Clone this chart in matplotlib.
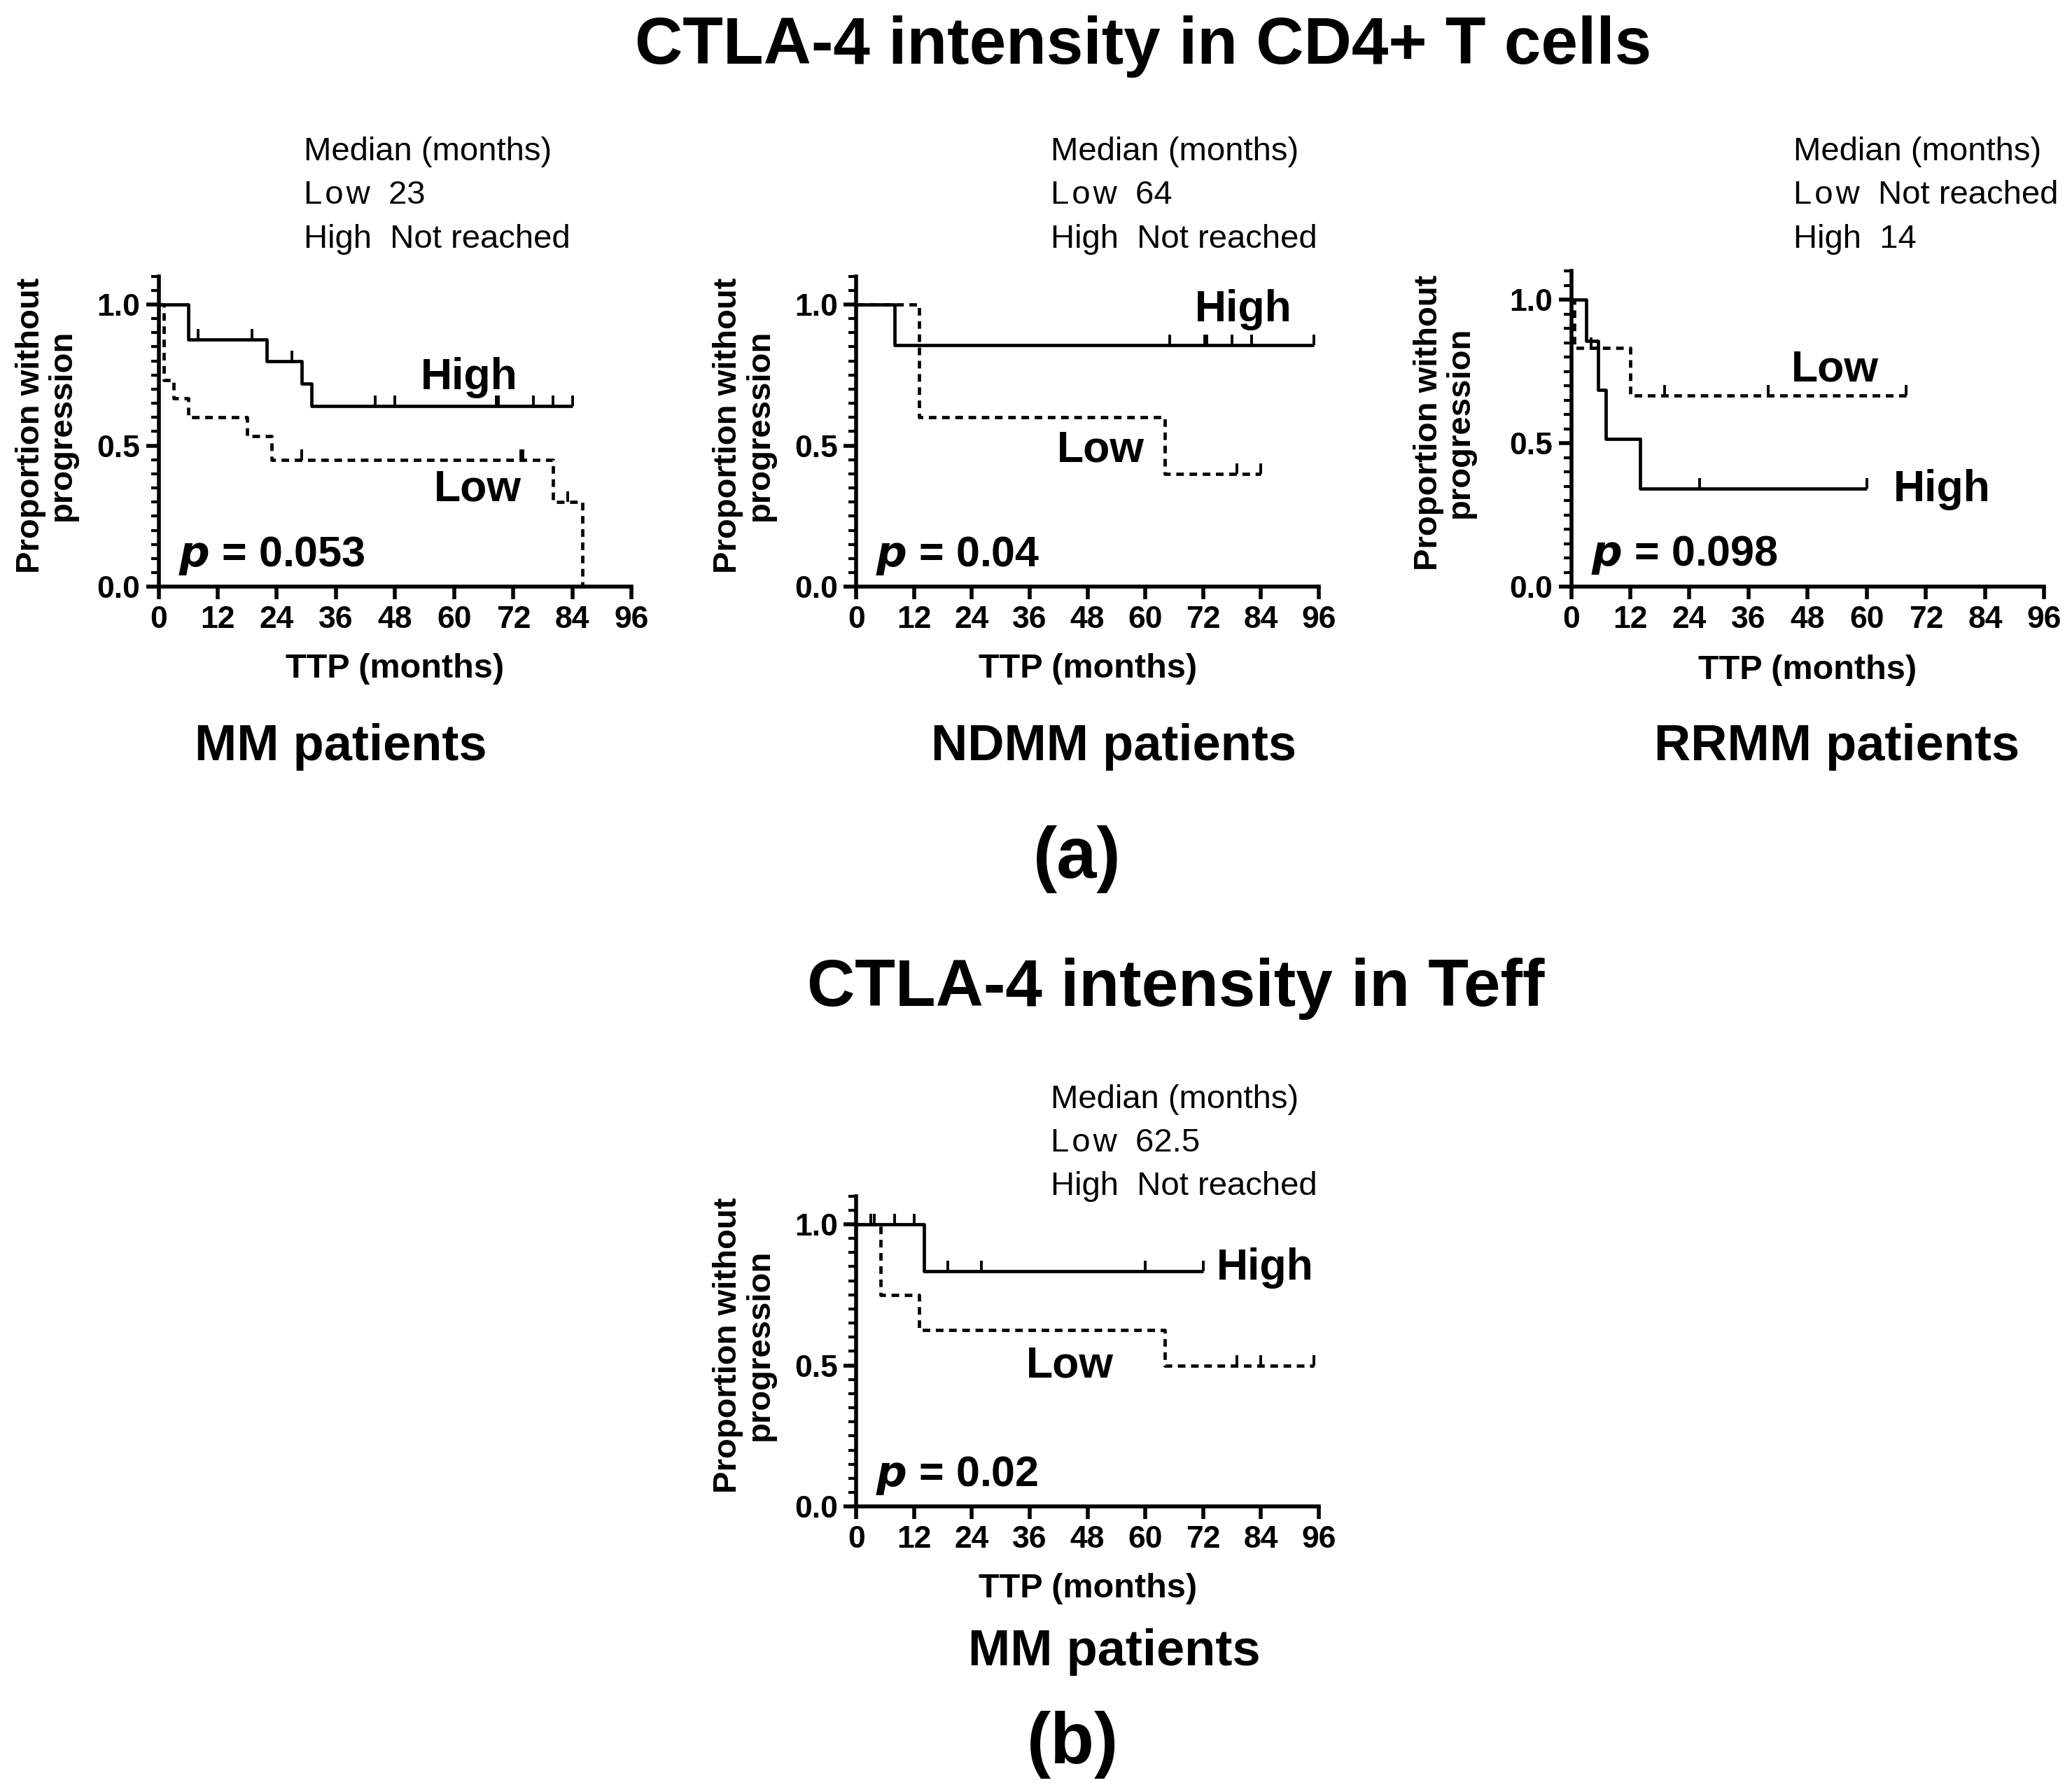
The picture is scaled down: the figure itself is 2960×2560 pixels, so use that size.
"""Kaplan-Meier curves: CTLA-4 intensity in CD4+ T cells and Teff (TTP)."""

import matplotlib
matplotlib.use("Agg")
import matplotlib.pyplot as plt
from matplotlib.ticker import MultipleLocator
from matplotlib.markers import TICKUP

plt.rcParams.update({
    "font.family": ["Liberation Sans", "DejaVu Sans"],
    "font.weight": "bold",
    "axes.linewidth": 4.0,
    "xtick.major.width": 4.0,
    "ytick.major.width": 4.0,
    "ytick.minor.width": 3.0,
    "xtick.major.size": 13,
    "ytick.major.size": 13,
    "ytick.minor.size": 8,
})

W, H = 1568, 1356  # layout measured on a 1568 x 1356 view of the reference

# ---- data (months, proportion without progression) ----
# CD4+ T cells, MM patients
mm_high_t = [0, 6, 22, 29, 31, 84]
mm_high_s = [1.0, 0.875, 0.80, 0.72, 0.64, 0.64]
mm_high_cens = [8, 19, 27, 44, 48, 68.5, 69, 76, 80, 84]
mm_low_t = [0, 1, 3, 6, 18, 23, 80, 86]
mm_low_s = [1.0, 0.733, 0.667, 0.60, 0.533, 0.45, 0.30, 0.0]
mm_low_cens = [29, 73.5, 74, 83]

# CD4+ T cells, NDMM patients
nd_high_t = [0, 8, 95]
nd_high_s = [1.0, 0.857, 0.857]
nd_high_cens = [65, 72.3, 72.8, 78, 82, 95]
nd_low_t = [0, 13, 64, 84]
nd_low_s = [1.0, 0.60, 0.40, 0.40]
nd_low_cens = [79, 84]

# CD4+ T cells, RRMM patients
rr_high_t = [0, 3, 5.5, 7, 14, 60]
rr_high_s = [1.0, 0.857, 0.686, 0.514, 0.343, 0.343]
rr_high_cens = [26, 60]
rr_low_t = [0, 0.6, 12, 68]
rr_low_s = [1.0, 0.833, 0.667, 0.667]
rr_low_cens = [4, 19, 40, 68]

# Teff, MM patients
te_high_t = [0, 14, 72]
te_high_s = [1.0, 0.833, 0.833]
te_high_cens = [3, 3.7, 8, 12, 19, 26, 60, 72]
te_low_t = [0, 5, 13, 64, 95]
te_low_s = [1.0, 0.75, 0.625, 0.50, 0.50]
te_low_cens = [79, 84, 95]

panels = [
    dict(rect=(120, 478, 444, 209), ylab_x=-0.237,
         high=(mm_high_t, mm_high_s, mm_high_cens),
         low=(mm_low_t, mm_low_s, mm_low_cens),
         high_lab=(63, 0.74), low_lab=(64.7, 0.345), p="0.053",
         median=("23", "Not reached"), med_xy=(230, 115),
         sub="MM patients", sub_xy=(258, 565)),
    dict(rect=(648, 998, 444, 209), ylab_x=-0.243,
         high=(nd_high_t, nd_high_s, nd_high_cens),
         low=(nd_low_t, nd_low_s, nd_low_cens),
         high_lab=(80.4, 0.98), low_lab=(50.7, 0.484), p="0.04",
         median=("64", "Not reached"), med_xy=(795, 115),
         sub="NDMM patients", sub_xy=(843, 565)),
    dict(rect=(1189, 1547, 444, 205), ylab_x=-0.268,
         high=(rr_high_t, rr_high_s, rr_high_cens),
         low=(rr_low_t, rr_low_s, rr_low_cens),
         high_lab=(75.3, 0.339), low_lab=(53.6, 0.757), p="0.098",
         median=("Not reached", "14"), med_xy=(1357, 115),
         sub="RRMM patients", sub_xy=(1390, 565)),
    dict(rect=(648, 998, 1140, 905), ylab_x=-0.243,
         high=(te_high_t, te_high_s, te_high_cens),
         low=(te_low_t, te_low_s, te_low_cens),
         high_lab=(84.8, 0.845), low_lab=(44.4, 0.50), p="0.02",
         median=("62.5", "Not reached"), med_xy=(795, 832),
         sub="MM patients", sub_xy=(843, 1250)),
]

DASH = (0, (2.3, 1.7))


def fx(x):
    return x / W


def fy(y):
    return 1 - y / H


def km(ax, t, s, cens, ls):
    ax.step(t, s, where="post", color="black", lw=3.4, linestyle=ls,
            solid_capstyle="butt", clip_on=False)
    # censor marks sit on the curve at each censored time
    cs = []
    for c in cens:
        v = s[0]
        for ti, si in zip(t, s):
            if ti <= c:
                v = si
        cs.append(v)
    ax.plot(cens, cs, linestyle="none", marker=TICKUP, markersize=11,
            markeredgewidth=2.8, color="black", clip_on=False)


fig = plt.figure(figsize=(29.6, 25.6), dpi=100)

for p in panels:
    x0, x1, yb, yt = p["rect"]
    ax = fig.add_axes([fx(x0), fy(yb), fx(x1) - fx(x0), fy(yt) - fy(yb)])
    km(ax, *p["high"], "-")
    km(ax, *p["low"], DASH)

    ax.set_xlim(0, 96)
    ax.set_ylim(0, 1.1)
    ax.set_xticks(range(0, 97, 12))
    ax.set_yticks([0, 0.5, 1.0])
    ax.set_yticklabels(["0.0", "0.5", "1.0"])
    ax.yaxis.set_minor_locator(MultipleLocator(0.05))
    ax.tick_params(axis="both", direction="out", labelsize=32, pad=6)
    for lab in ax.get_xticklabels() + ax.get_yticklabels():
        lab.set_fontweight("bold")
    for side in ("top", "right"):
        ax.spines[side].set_visible(False)

    ax.set_xlabel("TTP (months)", fontsize=35, fontweight="bold")
    ax.xaxis.label.set_va("center")
    ax.xaxis.set_label_coords(0.5, -0.264)
    ax.set_ylabel("Proportion without\nprogression", fontsize=34,
                  fontweight="bold", linespacing=1.05)
    ax.yaxis.label.set_va("center")
    ax.yaxis.set_label_coords(p["ylab_x"], 0.52)

    ax.text(*p["high_lab"], "High", fontsize=45, fontweight="bold",
            ha="center", va="center")
    ax.text(*p["low_lab"], "Low", fontsize=45, fontweight="bold",
            ha="center", va="center")
    ax.text(4, 0.11, r"$\bf{\it{p}}$" + " = " + p["p"], fontsize=44,
            fontweight="bold", ha="left", va="center")

    mx, my = p["med_xy"]
    lo, hi = p["median"]
    for k, line in enumerate(["Median (months)", "L\u200ao\u200aw  " + lo,
                              "High  " + hi]):
        fig.text(fx(mx), fy(my + 33 * k), line, fontsize=34,
                 fontweight="normal", ha="left", va="center")

    fig.text(fx(p["sub_xy"][0]), fy(p["sub_xy"][1]), p["sub"], fontsize=52,
             fontweight="bold", ha="center", va="center")

fig.text(fx(865), fy(35), "CTLA-4 intensity in CD4+ T cells", fontsize=68,
         fontweight="bold", ha="center", va="center")
fig.text(fx(815), fy(650), "(a)", fontsize=74, fontweight="bold",
         ha="center", va="center")
fig.text(fx(890), fy(748), "CTLA-4 intensity in Teff", fontsize=68,
         fontweight="bold", ha="center", va="center")
fig.text(fx(812), fy(1320), "(b)", fontsize=74, fontweight="bold",
         ha="center", va="center")

fig.savefig("out.png", dpi=100, facecolor="white")
plt.close(fig)
print("Saved: out.png")
